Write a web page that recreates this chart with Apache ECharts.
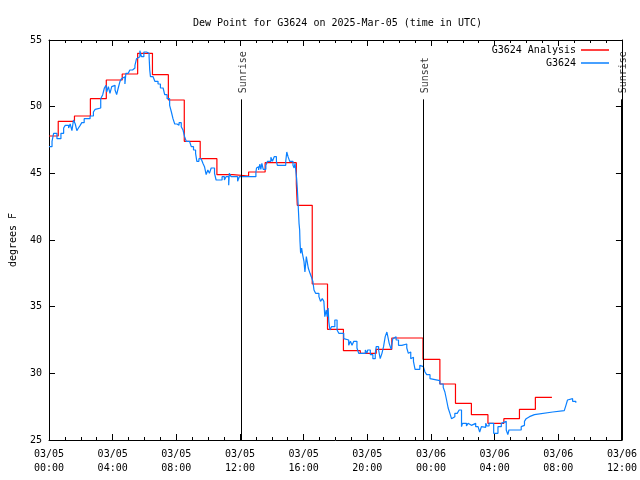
<!DOCTYPE html>
<html>
<head>
<meta charset="utf-8">
<script src="https://cdn.jsdelivr.net/npm/echarts@6/dist/echarts.min.js"></script>
<style>html,body{margin:0;padding:0;background:#fff}#c{width:640px;height:480px}</style>
</head>
<body>
<div id="c"></div>
<script>
// hours since 03/05 00:00 UTC
var xTickLabels = ['03/05\n00:00','03/05\n04:00','03/05\n08:00','03/05\n12:00','03/05\n16:00','03/05\n20:00','03/06\n00:00','03/06\n04:00','03/06\n08:00','03/06\n12:00'];
var yTicks = [25,30,35,40,45,50,55];

var analysisHours = [0,0.58,1.6,2.6,3.6,4.6,5.57,6.5,7.5,8.5,9.5,10.55,11.55,12.54,13.58,15.54,15.6,16.54,17.5,18.5,19.56,20.56,21.54,23.5,24.56,25.54,26.54,27.58,28.58,29.56,30.56,31.6];
var analysisValues = [47.8,48.9,49.3,50.6,52.0,52.45,54.0,52.4,50.5,47.4,46.1,44.9,44.8,45.1,45.8,44.2,42.6,36.7,33.3,31.7,31.5,31.8,32.65,31.05,29.2,27.75,26.9,26.25,26.6,27.3,28.2,28.2];

var obsHours = [0,0.19,0.29,0.5,0.75,0.92,1.02,1.23,1.33,1.44,1.54,1.65,1.75,1.85,1.96,2.06,2.21,2.58,2.79,2.9,3.0,3.25,3.375,3.48,3.58,3.625,3.73,3.83,3.94,4.04,4.15,4.25,4.35,4.46,4.56,4.67,4.77,4.83,4.98,5.08,5.25,5.4,5.5,5.6,5.71,5.81,5.96,6.125,6.29,6.33,6.375,6.54,6.65,6.85,7.0,7.17,7.27,7.42,7.58,7.69,7.79,7.9,8.04,8.17,8.31,8.42,8.52,8.625,8.83,8.94,9.08,9.21,9.29,9.42,9.56,9.67,9.77,9.875,9.98,10.08,10.19,10.4,10.5,10.875,11.02,11.125,11.29,11.33,11.44,11.85,11.96,13.0,13.04,13.1,13.17,13.25,13.31,13.375,13.46,13.625,13.73,13.94,14.04,14.15,14.29,14.35,14.875,14.94,15.02,15.125,15.33,15.4,15.46,15.56,15.6,15.65,15.71,15.75,15.77,15.81,15.875,15.92,16.02,16.08,16.17,16.29,16.4,16.48,16.58,16.65,16.75,16.96,17.06,17.17,17.27,17.33,17.42,17.48,17.54,17.58,17.65,17.75,17.96,18.1,18.21,18.52,18.625,18.83,18.94,19.04,19.15,19.35,19.46,19.875,19.98,20.02,20.19,20.35,20.5,20.56,20.71,20.81,20.92,21.02,21.125,21.23,21.29,21.375,21.5,21.6,21.69,21.81,21.96,22.17,22.48,22.58,22.65,22.73,22.83,22.9,23.0,23.3,23.42,23.52,23.625,23.73,23.94,24.04,24.56,24.77,24.875,24.98,25.08,25.19,25.29,25.4,25.5,25.65,25.77,25.92,25.98,26.23,26.33,26.44,26.54,26.81,26.96,27.06,27.17,27.27,27.44,27.52,27.65,27.94,28.21,28.42,28.52,28.73,28.83,28.9,29.67,29.77,29.875,29.98,30.08,30.19,30.5,30.6,31.65,32.375,32.48,32.58,32.69,32.9,33.1];
var obsValues = [47.0,47.4,48.0,47.6,48.0,48.4,48.6,48.4,48.7,48.2,49.0,48.7,48.2,48.4,48.6,48.8,49.1,49.3,49.6,49.8,49.9,50.6,50.9,51.4,51.6,51.1,51.5,51.0,51.5,51.6,51.25,50.9,51.4,51.9,52.1,52.25,51.7,52.5,52.4,52.75,52.9,53.1,53.6,53.75,54.2,53.75,54.1,54.0,53.75,52.75,52.25,52.1,51.9,51.7,51.4,51.25,50.9,50.6,50.1,49.6,49.1,48.7,48.6,48.8,48.5,48.25,47.75,47.4,47.3,47.0,46.75,46.5,45.9,46.1,46.0,45.75,45.5,44.9,45.25,45.0,45.4,45.0,44.5,44.75,44.5,44.75,44.1,45.0,44.75,44.4,44.75,45.1,45.4,45.5,45.25,45.7,45.3,45.75,45.3,45.6,45.9,46.2,45.9,46.25,45.9,45.6,45.9,46.6,46.25,45.9,45.6,45.4,45.75,44.6,43.9,42.75,41.25,40.75,39.9,39.0,39.4,39.0,38.4,37.6,38.75,37.9,37.5,37.25,36.9,36.25,36.0,35.75,35.4,35.6,35.4,34.25,34.75,34.25,34.9,33.9,33.25,33.5,34.0,33.25,33.0,32.6,32.5,32.1,32.4,32.1,32.4,31.9,31.5,31.75,31.5,31.75,31.4,31.1,31.5,32.0,31.75,31.1,31.5,32.0,32.75,33.1,32.75,32.25,31.8,32.6,32.75,32.5,32.1,32.2,31.9,31.5,31.6,31.1,31.2,30.9,30.3,30.6,30.5,30.6,30.1,29.9,29.6,29.45,29.2,28.95,28.6,28.0,27.4,27.0,26.6,26.75,27.0,27.1,27.25,26.0,26.25,26.05,26.25,26.1,26.25,26.0,25.9,25.6,26.0,25.95,26.25,26.05,26.25,25.5,26.0,26.25,26.4,25.75,25.4,25.75,26.0,26.1,26.4,26.6,26.75,26.9,27.05,27.1,27.2,27.25,27.6,28.0,28.1,27.9,27.8];

var eventNames = ['Sunrise','Sunset','Sunrise'];
var eventHours = [12.06,23.5,35.94];
var eventLineTop = 50.55;
var eventLabelBase = 51.0;

function zip(a,b){return a.map(function(v,i){return [v,b[i]];});}

var FONT = 'DejaVu Sans Mono';
var RED = '#ff0000', BLUE = '#0a80ff';
var chart = echarts.init(document.getElementById('c'), null, {renderer:'canvas'});

function xAx(pos, showLabel){
  return {
    type:'value', position:pos, min:0, max:36, interval:4,
    axisLine:{show:true, onZero:false, lineStyle:{color:'#000', width:1}},
    axisTick:{show:true, inside:true, length:6, lineStyle:{color:'#000'}},
    minorTick:{show:true, splitNumber:4, length:3, lineStyle:{color:'#000'}},
    splitLine:{show:false}, minorSplitLine:{show:false},
    axisLabel:{show:showLabel, margin:7, color:'#000', fontFamily:FONT, fontSize:10, lineHeight:14,
      formatter:function(v){return xTickLabels[Math.round(v/4)];}}
  };
}
function yAx(pos, showLabel){
  var ax = {
    type:'value', position:pos, min:25, max:55, interval:5,
    axisLine:{show:true, onZero:false, lineStyle:{color:'#000', width:1}},
    axisTick:{show:true, inside:true, length:6, lineStyle:{color:'#000'}},
    splitLine:{show:false},
    axisLabel:{show:showLabel, margin:7, color:'#000', fontFamily:FONT, fontSize:10,
      formatter:function(v){return yTicks.indexOf(v)>=0 ? String(v) : '';}}
  };
  if (showLabel) {
    ax.name = 'degrees F'; ax.nameLocation = 'middle'; ax.nameGap = 31; ax.nameRotate = 90;
    ax.nameTextStyle = {color:'#000', fontFamily:FONT, fontSize:10};
  }
  return ax;
}

var option = {
  animation:false,
  backgroundColor:'#fff',
  title:{text:'Dew Point for G3624 on 2025-Mar-05 (time in UTC)', left:188, top:13,
    textStyle:{fontFamily:FONT, fontSize:10, fontWeight:'normal', color:'#000'}},
  grid:{left:47, right:18, top:40, bottom:40},
  legend:{
    data:[{name:'G3624 Analysis', itemStyle:{color:RED}}, {name:'G3624', itemStyle:{color:BLUE}}],
    orient:'vertical', right:31, top:44, padding:0, align:'right',
    itemWidth:28, itemHeight:1.5, itemGap:1, icon:'rect', selectedMode:false,
    textStyle:{fontFamily:FONT, fontSize:10, color:'#000', lineHeight:12}
  },
  xAxis:[xAx('bottom', true), xAx('top', false)],
  yAxis:[yAx('left', true), yAx('right', false)],
  series:[
    {name:'G3624 Analysis', type:'line', step:'end', symbol:'none', data:zip(analysisHours, analysisValues),
      lineStyle:{color:RED, width:1.2}, itemStyle:{color:RED}},
    {name:'G3624', type:'line', step:'end', symbol:'none', data:zip(obsHours, obsValues),
      lineStyle:{color:BLUE, width:1.2}, itemStyle:{color:BLUE},
      markLine:{silent:true, symbol:['none','none'], label:{show:false},
        lineStyle:{color:'#000', width:1, type:'solid'},
        data:eventHours.map(function(h){return [{coord:[h, eventLineTop]},{coord:[h, 25]}];})}},
    {name:'events', type:'scatter', symbolSize:0, silent:true,
      data:eventHours.map(function(h,i){return {value:[h, eventLabelBase], name:eventNames[i]};}),
      label:{show:true, formatter:function(p){return p.name;}, position:[2,0], rotate:90,
        align:'left', verticalAlign:'middle', fontFamily:FONT, fontSize:10, color:'#000'}}
  ]
};
chart.setOption(option);
</script>
</body>
</html>
